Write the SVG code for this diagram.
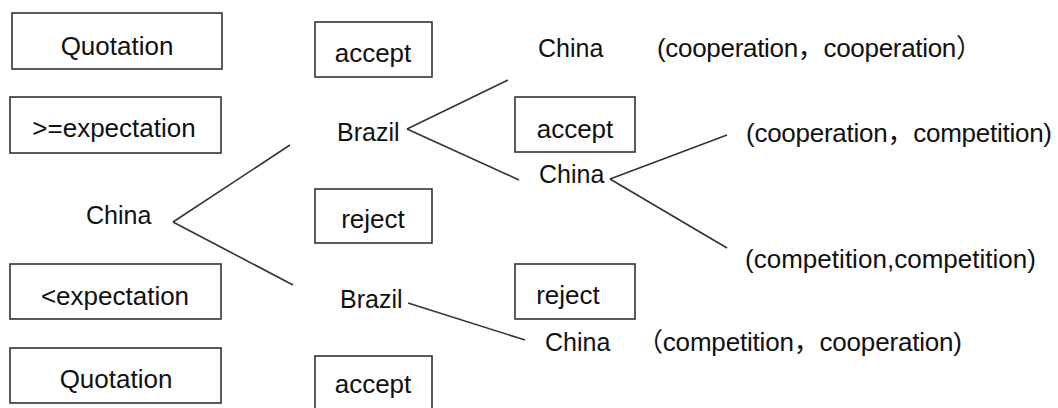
<svg xmlns="http://www.w3.org/2000/svg" width="1058" height="408" viewBox="0 0 1058 408">
<style>
  text { font-family: "Liberation Sans", "Noto Sans CJK SC", sans-serif; font-size: 26px; fill: #111; }
  .c { text-anchor: middle; }
  .n { font-size: 25px; }
  .box { fill: #fff; stroke: #333; stroke-width: 1.6; }
  .ln { stroke: #333; stroke-width: 1.6; fill: none; }
</style>
<rect width="1058" height="408" fill="#fff"/>
<g id="connectors">
  <line class="ln" x1="173" y1="222" x2="290" y2="145"/>
  <line class="ln" x1="173" y1="222" x2="293" y2="285"/>
  <line class="ln" x1="407" y1="129" x2="508" y2="80"/>
  <line class="ln" x1="407" y1="129" x2="519" y2="180"/>
  <line class="ln" x1="610" y1="179" x2="727" y2="135"/>
  <line class="ln" x1="610" y1="179" x2="727" y2="248"/>
  <line class="ln" x1="408" y1="303" x2="525" y2="340"/>
</g>
<g id="quotation-top"><rect class="box" x="12" y="13" width="210" height="56"/><text class="c" x="117" y="55">Quotation</text></g>
<g id="ge-expectation"><rect class="box" x="10" y="97" width="211" height="56"/><text class="c" x="114" y="137">&gt;=expectation</text></g>
<g id="lt-expectation"><rect class="box" x="10" y="264" width="211" height="55"/><text class="c" x="115" y="305">&lt;expectation</text></g>
<g id="quotation-bottom"><rect class="box" x="10" y="348" width="211" height="55"/><text class="c" x="116" y="388">Quotation</text></g>
<g id="accept-top"><rect class="box" x="315" y="22" width="117" height="55"/><text class="c" x="373" y="62">accept</text></g>
<g id="reject-mid"><rect class="box" x="315" y="189" width="117" height="54"/><text class="c" x="373" y="228">reject</text></g>
<g id="accept-bottom"><rect class="box" x="315" y="356" width="117" height="60"/><text class="c" x="373" y="393">accept</text></g>
<g id="accept-mid"><rect class="box" x="515" y="97" width="120" height="55"/><text class="c" x="575" y="138">accept</text></g>
<g id="reject-low"><rect class="box" x="515" y="264" width="120" height="55"/><text class="c" x="568" y="304">reject</text></g>
<g id="china-root"><text class="n" x="86" y="224">China</text></g>
<g id="brazil-top"><text class="n" x="337" y="141">Brazil</text></g>
<g id="brazil-bottom"><text class="n" x="340" y="308">Brazil</text></g>
<g id="china-top"><text class="n" x="538" y="57">China</text></g>
<g id="payoff-cc"><text x="657" y="57" textLength="325" lengthAdjust="spacing">(cooperation，cooperation）</text></g>
<g id="china-mid"><text class="n" x="539" y="183">China</text></g>
<g id="payoff-cco"><text x="746" y="142" textLength="306" lengthAdjust="spacing">(cooperation，competition)</text></g>
<g id="payoff-coco"><text x="745" y="268" textLength="291" lengthAdjust="spacing">(competition,competition)</text></g>
<g id="china-bottom"><text class="n" x="545" y="351">China</text></g>
<g id="payoff-coc"><text x="637" y="351" textLength="325" lengthAdjust="spacing">（competition，cooperation)</text></g>
</svg>
